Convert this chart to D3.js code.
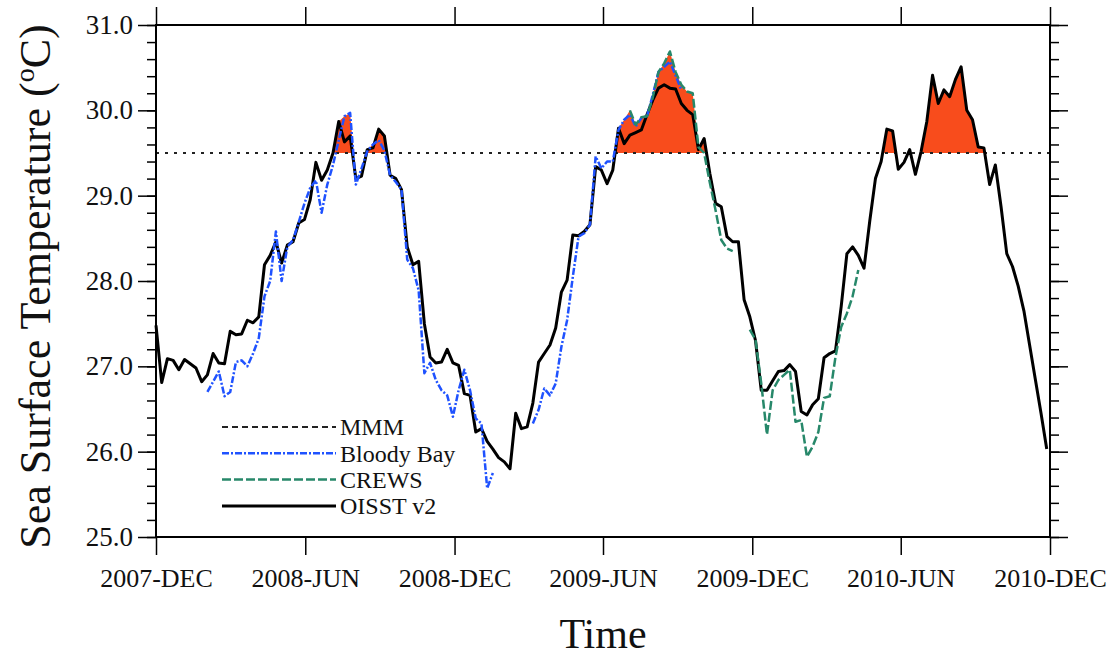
<!DOCTYPE html>
<html>
<head>
<meta charset="utf-8">
<script src="https://cdn.jsdelivr.net/npm/d3@7"></script>
<style>
  body { margin: 0; background: #fff; }
  svg { display: block; font-family: "Liberation Serif", "Times New Roman", serif; }
</style>
</head>
<body>
<svg id="chart" width="1117" height="658"></svg>
<script>
// weekly sea surface temperature
const oisstStart = "2007-12-01";
const oisst = [
  27.48, 26.81, 27.09, 27.07, 26.96, 27.08, 27.03, 26.98, 26.82, 26.90,
  27.15, 27.04, 27.03, 27.41, 27.37, 27.38, 27.54, 27.51, 27.58, 28.19,
  28.30, 28.46, 28.21, 28.42, 28.46, 28.68, 28.72, 28.95, 29.39, 29.18,
  29.30, 29.50, 29.87, 29.63, 29.70, 29.20, 29.23, 29.54, 29.56, 29.78,
  29.70, 29.24, 29.20, 29.07, 28.40, 28.19, 28.23, 27.50, 27.11, 27.04,
  27.05, 27.20, 27.04, 27.01, 26.68, 26.66, 26.23, 26.27, 26.12, 26.03,
  25.93, 25.88, 25.80, 26.45, 26.27, 26.29, 26.57, 27.05, 27.15, 27.25,
  27.45, 27.87, 28.01, 28.54, 28.53, 28.58, 28.66, 29.34, 29.30, 29.14,
  29.30, 29.79, 29.61, 29.71, 29.74, 29.77, 29.95, 30.12, 30.26, 30.30,
  30.26, 30.25, 30.08, 30.00, 29.95, 29.54, 29.67, 29.26, 28.91, 28.87,
  28.52, 28.46, 28.46, 27.78, 27.58, 27.30, 26.72, 26.72, 26.83, 26.94,
  26.95, 27.02, 26.94, 26.47, 26.43, 26.55, 26.62, 27.10, 27.15, 27.18,
  27.70, 28.32, 28.40, 28.30, 28.15, 28.70, 29.20, 29.40, 29.78, 29.76,
  29.31, 29.39, 29.54, 29.25, 29.52, 29.87, 30.41, 30.08, 30.24, 30.16,
  30.36, 30.51, 30.00, 29.89, 29.57, 29.56, 29.13, 29.36, 28.87, 28.32,
  28.17, 27.94, 27.65, 27.25, 26.85, 26.45, 26.03
];

const bloodyBayStartA = "2008-02-02";
const bloodyBayA = [
  26.70, 26.82, 26.94, 26.65, 26.70, 27.05, 27.07, 27.00, 27.15, 27.33,
  27.82, 28.00, 28.58, 28.00, 28.40, 28.48, 28.69, 28.91, 29.09, 29.18,
  28.80, 29.13, 29.36, 29.65, 29.93, 29.97, 29.13, 29.32, 29.52, 29.60,
  29.65, 29.53, 29.24, 29.16, 29.07, 28.25, 28.15, 27.89, 26.92, 27.04,
  26.84, 26.72, 26.66, 26.41, 26.72, 26.96, 26.72, 26.39, 26.33, 25.57,
  25.75
];
const bloodyBayStartB = "2009-03-07";
const bloodyBayB = [
  26.33, 26.49, 26.74, 26.66, 26.80, 27.23, 27.54, 28.05, 28.52, 28.56,
  28.66, 29.46, 29.32, 29.40, 29.40, 29.77, 29.89, 29.95, 29.81, 29.91,
  29.93, 30.18, 30.45, 30.51, 30.57, 30.41, 30.24
];

const crewsStartA = "2009-07-04";
const crewsA = [
  30.00, 29.83, 29.92, 29.93, 30.15, 30.45, 30.55, 30.69, 30.45, 30.30,
  30.22, 30.20, 29.57, 29.50, 29.15, 28.83, 28.48, 28.38, 28.35
];
const crewsStartB = "2009-11-28";
const crewsB = [
  27.43, 27.31, 26.80, 26.20, 26.72, 26.84, 26.90, 26.96, 26.35, 26.37,
  25.94, 26.06, 26.23, 26.63, 26.65, 27.11, 27.46, 27.62, 27.82, 28.13
];

const mmm = 29.5;

const yMajorTicks = [25, 26, 27, 28, 29, 30, 31];
const xTickDates = ["2007-12-01", "2008-06-01", "2008-12-01", "2009-06-01",
                    "2009-12-01", "2010-06-01", "2010-12-01"];
const xTickLabels = ["2007-DEC", "2008-JUN", "2008-DEC", "2009-JUN",
                     "2009-DEC", "2010-JUN", "2010-DEC"];
const legendLabels = ["MMM", "Bloody Bay", "CREWS", "OISST v2"];

const parse = d3.timeParse("%Y-%m-%d");

function weekly(start, values) {
    const t0 = parse(start);
    return values.map((v, i) => ({date: d3.timeDay.offset(t0, 7 * i), value: v}));
}

const seriesOisst = weekly(oisstStart, oisst);
const seriesBbA = weekly(bloodyBayStartA, bloodyBayA);
const seriesBbB = weekly(bloodyBayStartB, bloodyBayB);
const seriesCrA = weekly(crewsStartA, crewsA);
const seriesCrB = weekly(crewsStartB, crewsB);

// highest reading of any source for each week, used for the bleaching fill
var maxByWeek = new Map();
for (const s of [seriesOisst, seriesBbA, seriesBbB, seriesCrA, seriesCrB]) {
    for (const d of s) {
        const k = d.date.getTime();
        if (!maxByWeek.has(k) || d.value > maxByWeek.get(k)) maxByWeek.set(k, d.value);
    }
}
const fillData = seriesOisst.map(d => ({date: d.date, value: maxByWeek.get(d.date.getTime())}));

const plotLeft = 156, plotRight = 1050, plotTop = 25, plotBottom = 537;

const x = d3.scaleTime()
    .domain([parse("2007-12-01"), parse("2010-12-01")])
    .range([plotLeft, plotRight]);
const y = d3.scaleLinear()
    .domain([25, 31])
    .range([plotBottom, plotTop]);

const svg = d3.select("#chart");
svg.append("rect").attr("width", 1117).attr("height", 658).attr("fill", "#fff");

svg.append("clipPath").attr("id", "aboveMMM")
    .append("rect")
    .attr("x", plotLeft).attr("y", plotTop)
    .attr("width", plotRight - plotLeft).attr("height", y(mmm) - plotTop);

const area = d3.area()
    .x(d => x(d.date))
    .y0(y(mmm))
    .y1(d => y(d.value));

svg.append("path")
    .datum(fillData)
    .attr("d", area)
    .attr("clip-path", "url(#aboveMMM)")
    .attr("fill", "#f84c1c");

// MMM threshold
svg.append("line")
    .attr("x1", plotLeft).attr("x2", plotRight)
    .attr("y1", y(mmm)).attr("y2", y(mmm))
    .attr("stroke", "#222")
    .attr("stroke-width", 2)
    .attr("stroke-dasharray", "3,6");

const line = d3.line()
    .x(d => x(d.date))
    .y(d => y(d.value));

function drawLine(data, color, width, dash) {
    svg.append("path")
        .datum(data)
        .attr("d", line)
        .attr("fill", "none")
        .attr("stroke", color)
        .attr("stroke-width", width)
        .attr("stroke-linejoin", "round")
        .attr("stroke-dasharray", dash);
}

drawLine(seriesOisst, "#000", 3, null);
drawLine(seriesBbA, "#1f52ff", 2.5, "7,2,2,2");
drawLine(seriesBbB, "#1f52ff", 2.5, "7,2,2,2");
drawLine(seriesCrA, "#27886a", 2.5, "9,3");
drawLine(seriesCrB, "#27886a", 2.5, "9,3");

// axes
const yMinorTicks = d3.range(25, 31.001, 0.2);
const xTicks = xTickDates.map(parse);

function styleAxis(g) {
    g.select(".domain").remove();
    g.selectAll(".tick line").attr("stroke", "#000").attr("stroke-width", 1.5);
}

svg.append("g").attr("transform", `translate(${plotLeft},0)`)
    .call(d3.axisLeft(y).tickValues(yMinorTicks).tickSize(9).tickFormat(""))
    .call(styleAxis);
svg.append("g").attr("transform", `translate(${plotRight},0)`)
    .call(d3.axisRight(y).tickValues(yMinorTicks).tickSize(9).tickFormat(""))
    .call(styleAxis);
svg.append("g").attr("transform", `translate(${plotRight},0)`)
    .call(d3.axisRight(y).tickValues(yMajorTicks).tickSize(18).tickFormat(""))
    .call(styleAxis);

const yAxis = svg.append("g").attr("transform", `translate(${plotLeft},0)`)
    .call(d3.axisLeft(y).tickValues(yMajorTicks).tickSize(18).tickPadding(5).tickFormat(d3.format(".1f")))
    .call(styleAxis);
yAxis.selectAll("text").attr("font-size", 27).attr("fill", "#111")
    .attr("font-family", "Liberation Serif, Times New Roman, serif");

const xAxis = svg.append("g").attr("transform", `translate(0,${plotBottom})`)
    .call(d3.axisBottom(x).tickValues(xTicks).tickSize(18).tickPadding(14)
        .tickFormat((d, i) => xTickLabels[i]))
    .call(styleAxis);
xAxis.selectAll("text").attr("font-size", 26).attr("fill", "#111")
    .attr("font-family", "Liberation Serif, Times New Roman, serif");

svg.append("g").attr("transform", `translate(0,${plotTop})`)
    .call(d3.axisTop(x).tickValues(xTicks).tickSize(18).tickFormat(""))
    .call(styleAxis);

// frame
svg.append("rect")
    .attr("x", plotLeft).attr("y", plotTop)
    .attr("width", plotRight - plotLeft).attr("height", plotBottom - plotTop)
    .attr("fill", "none").attr("stroke", "#000").attr("stroke-width", 2);

// titles
const yTitle = svg.append("text")
    .attr("transform", `translate(50,${(plotTop + 548) / 2}) rotate(-90)`)
    .attr("text-anchor", "middle")
    .attr("font-size", 44)
    .attr("fill", "#111");
yTitle.append("tspan").text("Sea Surface Temperature (");
yTitle.append("tspan").attr("font-size", 28).attr("dy", -16).text("o");
yTitle.append("tspan").attr("dy", 16).text("C)");

svg.append("text")
    .attr("x", (plotLeft + plotRight) / 2).attr("y", 648)
    .attr("text-anchor", "middle")
    .attr("font-size", 42)
    .attr("fill", "#111")
    .text("Time");

// legend
const legendStyles = [
    {color: "#222", width: 2, dash: "6,4"},
    {color: "#1f52ff", width: 2.5, dash: "7,2,2,2"},
    {color: "#27886a", width: 2.5, dash: "9,3"},
    {color: "#000", width: 3, dash: null}
];
const legend = svg.append("g");
legendLabels.forEach((label, i) => {
    const ly = 427 + i * 26.3;
    legend.append("line")
        .attr("x1", 222).attr("x2", 336)
        .attr("y1", ly).attr("y2", ly)
        .attr("stroke", legendStyles[i].color)
        .attr("stroke-width", legendStyles[i].width)
        .attr("stroke-dasharray", legendStyles[i].dash);
    legend.append("text")
        .attr("x", 340).attr("y", ly)
        .attr("dy", "0.35em")
        .attr("font-size", 24)
        .attr("fill", "#111")
        .text(label);
});
</script>
</body>
</html>
